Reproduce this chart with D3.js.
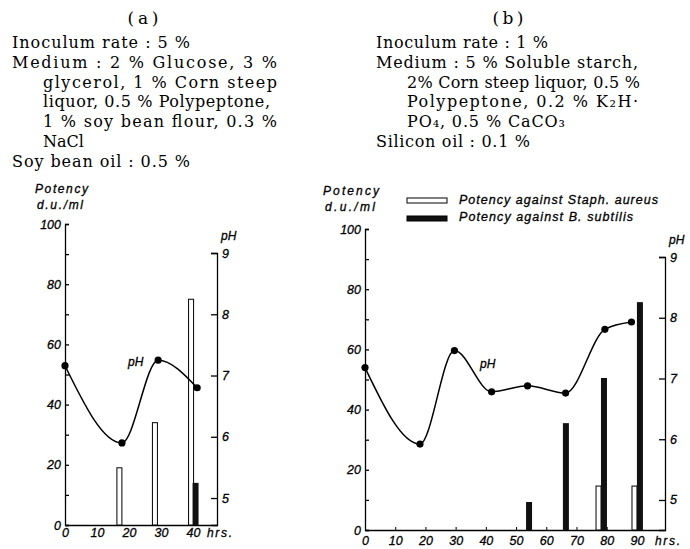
<!DOCTYPE html>
<html>
<head>
<meta charset="utf-8">
<script src="https://cdn.jsdelivr.net/npm/d3@7"></script>
<style>
  body { margin: 0; background: #fff; }
  svg { display: block; }
</style>
</head>
<body>
<svg id="chart" width="690" height="549"></svg>
<script>
// ---- values ----

// (a) hours / pH / potency
const phHoursA = [0, 17.8, 29.1, 41.3]
const phA = [7.16, 5.9, 7.25, 6.8]
const staphHoursA = [17, 28.1, 39.4]
const staphA = [19, 34, 75]
const subtilisHoursA = [40.8]
const subtilisA = [14]

// (b)
const phHoursB = [0, 18.2, 29.6, 41.9, 53.8, 66.4, 79.4, 88.2]
const phB = [7.18, 5.92, 7.46, 6.78, 6.88, 6.76, 7.81, 7.93]
const staphHoursB = [77.3, 89.2]
const staphB = [14.6, 14.6]
const subtilisHoursB = [54.3, 66.5, 79.1, 91]
const subtilisB = [9.3, 35.5, 50.5, 75.7]

// ticks
const potencyTicks = [0, 10, 20, 30, 40, 50, 60, 70, 80, 90, 100]
const phTicks = [5, 6, 7, 8, 9]
const hourTicksA = [0, 10, 20, 30, 40]
const hourTicksB = [0, 10, 20, 30, 40, 50, 60, 70, 80, 90]

// text blocks
const mediumA = [
  "Inoculum rate : 5 %",
  "Medium : 2 % Glucose, 3 %",
  "glycerol, 1 % Corn steep",
  "liquor, 0.5 % Polypeptone,",
  "1 % soy bean flour, 0.3 %",
  "NaCl",
  "Soy bean oil : 0.5 %"
]
const mediumB = [
  "Inoculum rate : 1 %",
  "Medium : 5 % Soluble starch,",
  "2% Corn steep liquor, 0.5 %",
  "Polypeptone, 0.2 % K₂H·",
  "PO₄, 0.5 % CaCO₃",
  "Silicon oil : 0.1 %"
]
const legendLabels = ["Potency against Staph. aureus", "Potency against B. subtilis"]

const svg = d3.select('#chart')
const SERIF = "'DejaVu Serif', 'Liberation Serif', serif"
const SANS = "'Liberation Sans', Arial, sans-serif"

// heading + medium description
function textBlock(title, cx, lines, x0, indent, widths) {
  svg.append('text')
    .attr('x', cx).attr('y', 23.5)
    .attr('text-anchor', 'middle')
    .style('font-family', SERIF).style('font-size', '17px')
    .attr('textLength', 31).attr('lengthAdjust', 'spacing')
    .text(title)

  lines.forEach((line, i) => {
    const t = svg.append('text')
      .attr('x', indent[i] ? x0 + 31 : x0)
      .attr('y', 48 + i * 19.75)
      .style('font-family', SERIF).style('font-size', '16px')
      .text(line)
    // stretch the line to the width it has in the print
    if (widths[i]) t.attr('textLength', widths[i]).attr('lengthAdjust', 'spacing')
  })
}

textBlock('(a)', 143, mediumA, 12, [0, 0, 1, 1, 1, 1, 0], [178, 265, 234, 227, 234, 0, 178])
textBlock('(b)', 508, mediumB, 376, [0, 0, 1, 1, 1, 0], [172, 262, 233, 231, 158, 154])

// italic sans labels, a touch heavier like the print
function styleSans(sel, size) {
  sel.style('font-family', SANS).style('font-size', size || '12px').style('font-style', 'italic')
    .attr('fill', '#000').attr('stroke', '#000').attr('stroke-width', 0.3)
}

function label(txt, x, y, w, anchor) {
  const t = svg.append('text')
    .attr('x', x).attr('y', y)
    .attr('text-anchor', anchor || 'start')
    .text(txt)
  styleSans(t)
  if (w) t.attr('textLength', w).attr('lengthAdjust', 'spacing')
  return t
}

function drawPanel(cfg) {
  const x = d3.scaleLinear().domain([0, cfg.hourMax]).range([cfg.left, cfg.right])
  const y = d3.scaleLinear().domain([0, 100]).range([cfg.bottom, cfg.top])
  const yPh = d3.scaleLinear().domain([cfg.phMin, 9]).range([cfg.bottom, cfg.phTop])

  const g = svg.append('g')

  // potency axis (ticks point inward)
  const ay = g.append('g')
    .attr('transform', 'translate(' + cfg.left + ',0)')
    .call(d3.axisLeft(y).tickValues(potencyTicks).tickSize(-4).tickPadding(4)
      .tickFormat(d => d % 20 === 0 ? d : ''))

  // pH axis on the right
  const ap = g.append('g')
    .attr('transform', 'translate(' + cfg.right + ',0)')
    .call(d3.axisRight(yPh).tickValues(phTicks).tickSize(-6).tickPadding(5)
      .tickFormat(d3.format('d')))

  // hours
  const ax = g.append('g')
    .attr('transform', 'translate(0,' + cfg.bottom + ')')
    .call(d3.axisBottom(x).tickValues(cfg.hourTicks).tickSize(-cfg.xTick)
      .tickSizeOuter(0).tickPadding(cfg.xPad))

  ;[ay, ap, ax].forEach(a => {
    a.selectAll('path, line').attr('stroke', '#000').attr('stroke-width', 1.3)
    styleSans(a.selectAll('text'), '12.5px')
  })
  ax.selectAll('.tick line').attr('stroke-width', 1)

  // bars
  g.append('g').selectAll('rect')
    .data(cfg.staphHours)
    .join('rect')
      .attr('x', d => x(d) - 2.5)
      .attr('y', (d, i) => y(cfg.staph[i]))
      .attr('width', 5)
      .attr('height', (d, i) => y(0) - y(cfg.staph[i]))
      .attr('fill', '#fff').attr('stroke', '#000').attr('stroke-width', 1)

  g.append('g').selectAll('rect')
    .data(cfg.subtilisHours)
    .join('rect')
      .attr('x', d => x(d) - 3)
      .attr('y', (d, i) => y(cfg.subtilis[i]))
      .attr('width', 6)
      .attr('height', (d, i) => y(0) - y(cfg.subtilis[i]))
      .attr('fill', '#111')

  // pH curve
  const pts = cfg.phHours.map((h, i) => [h, cfg.ph[i]])
  g.append('path')
    .datum(pts)
    .attr('fill', 'none').attr('stroke', '#000').attr('stroke-width', 1.5)
    .attr('d', d3.line().x(d => x(d[0])).y(d => yPh(d[1])).curve(d3.curveMonotoneX))

  g.append('g').selectAll('circle')
    .data(pts)
    .join('circle')
      .attr('cx', d => x(d[0]))
      .attr('cy', d => yPh(d[1]))
      .attr('r', 3.6)
      .attr('fill', '#000')

  // titles
  label('Potency', cfg.potX, cfg.potY, cfg.potW)
  label('d.u./ml', cfg.potX + 2, cfg.potY + 16, cfg.duW)
  label('pH', cfg.right + 4, cfg.phTop - 13)
  label('hrs.', cfg.hrsX, cfg.bottom + cfg.hrsDy, 25)
  label('pH', cfg.phLabel[0], cfg.phLabel[1])
}

drawPanel({
  left: 65, right: 217, top: 224, bottom: 525, phTop: 253, phMin: 4.56, hourMax: 47.5,
  hourTicks: hourTicksA, xTick: 0, xPad: 3.5, hrsDy: 12,
  phHours: phHoursA, ph: phA,
  staphHours: staphHoursA, staph: staphA,
  subtilisHours: subtilisHoursA, subtilis: subtilisA,
  potX: 35, potY: 193, potW: 53, duW: 46, hrsX: 207, phLabel: [128, 366]
})

drawPanel({
  left: 365, right: 665, top: 229, bottom: 530, phTop: 257, phMin: 4.506, hourMax: 99.3,
  hourTicks: hourTicksB, xTick: 3, xPad: 6.5, hrsDy: 15,
  phHours: phHoursB, ph: phB,
  staphHours: staphHoursB, staph: staphB,
  subtilisHours: subtilisHoursB, subtilis: subtilisB,
  potX: 323, potY: 195, potW: 56, duW: 50, hrsX: 655, phLabel: [480, 368]
})

// legend (panel b)
const legend = svg.append('g')
legend.selectAll('rect')
  .data(legendLabels)
  .join('rect')
    .attr('x', 407).attr('y', (d, i) => 198 + i * 18)
    .attr('width', 40).attr('height', 5)
    .attr('fill', (d, i) => i ? '#111' : '#fff')
    .attr('stroke', '#000').attr('stroke-width', 1)
const legendText = legend.selectAll('text')
  .data(legendLabels)
  .join('text')
    .attr('x', 459).attr('y', (d, i) => 204 + i * 17)
    .attr('textLength', (d, i) => i ? 174 : 199).attr('lengthAdjust', 'spacing')
    .text(d => d)
styleSans(legendText, '12.5px')
</script>
</body>
</html>
